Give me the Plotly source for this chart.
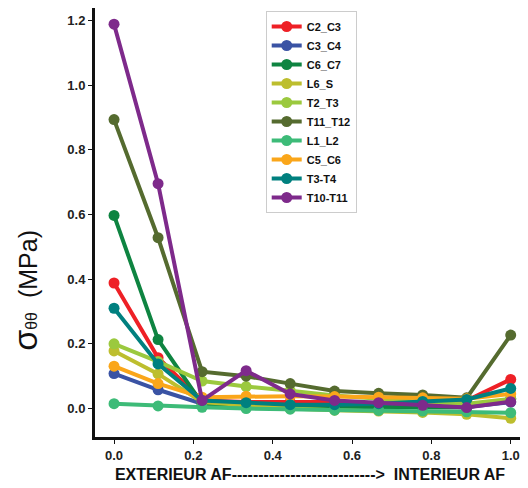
import plotly.graph_objects as go

x_vals = [0.0, 0.111, 0.222, 0.333, 0.444, 0.556, 0.667, 0.778, 0.889, 1.0]

series_names = ["C2_C3", "C3_C4", "C6_C7", "L6_S", "T2_T3", "T11_T12", "L1_L2", "C5_C6", "T3-T4", "T10-T11"]

C2_C3 = [0.388, 0.157, 0.025, 0.020, 0.020, 0.020, 0.015, 0.015, 0.025, 0.090]
C3_C4 = [0.108, 0.058, 0.015, 0.012, 0.010, 0.008, 0.005, 0.005, 0.005, 0.020]
C6_C7 = [0.597, 0.213, 0.015, 0.010, 0.008, 0.005, 0.003, 0.003, 0.003, 0.030]
L6_S = [0.178, 0.107, 0.020, 0.010, 0.000, -0.005, -0.008, -0.012, -0.018, -0.030]
T2_T3 = [0.200, 0.145, 0.085, 0.068, 0.055, 0.040, 0.030, 0.020, 0.015, 0.030]
T11_T12 = [0.893, 0.528, 0.114, 0.100, 0.077, 0.054, 0.047, 0.042, 0.033, 0.227]
L1_L2 = [0.015, 0.008, 0.004, 0.000, -0.002, -0.005, -0.006, -0.008, -0.010, -0.013]
C5_C6 = [0.131, 0.077, 0.035, 0.038, 0.038, 0.037, 0.035, 0.033, 0.030, 0.045]
T3_T4 = [0.310, 0.138, 0.025, 0.018, 0.012, 0.012, 0.015, 0.022, 0.028, 0.062]
T10_T11 = [1.188, 0.695, 0.025, 0.117, 0.045, 0.025, 0.018, 0.010, 0.003, 0.021]

series_values = [C2_C3, C3_C4, C6_C7, L6_S, T2_T3, T11_T12, L1_L2, C5_C6, T3_T4, T10_T11]
colors = ["#EE2026", "#3A53A4", "#0E8441", "#BDBE2E", "#9BC93E", "#556B2F",
          "#3DBB78", "#FAA61A", "#00807F", "#7E2A8B"]

x_ticks = [0.0, 0.2, 0.4, 0.6, 0.8, 1.0]
y_ticks = [0.0, 0.2, 0.4, 0.6, 0.8, 1.0, 1.2]

x_title = "EXTERIEUR AF" + "-" * 27 + ">  INTERIEUR AF"
y_title = ("<span style='font-size:34px'>σ</span>"
           "<span style='font-size:16px'>θθ</span>"
           "<span style='font-size:25px'>  (MPa)</span>")

fig = go.Figure()
for name, vals, col in zip(series_names, series_values, colors):
    fig.add_trace(go.Scatter(
        x=x_vals, y=vals, name=name, mode="lines+markers",
        line=dict(color=col, width=4),
        marker=dict(color=col, size=11),
    ))

font_family = "Liberation Sans, Arial, sans-serif"

fig.update_layout(
    width=520, height=480,
    margin=dict(l=87, r=3, t=0, b=51),
    plot_bgcolor="white", paper_bgcolor="white",
    font=dict(family=font_family, color="#222"),
    legend=dict(
        x=0.397, y=0.993, xanchor="left", yanchor="top",
        bgcolor="white", bordercolor="#cccccc", borderwidth=1,
        font=dict(family=font_family, size=11, color="#111", weight="bold"),
        tracegroupgap=0, itemwidth=30,
    ),
    xaxis=dict(
        range=[-0.048, 1.036], tickvals=x_ticks,
        ticktext=[f"{v:.1f}" for v in x_ticks],
        showgrid=False, zeroline=False,
        showline=True, linecolor="#111", linewidth=3,
        ticks="outside", ticklen=4, tickwidth=1, tickcolor="#111",
        tickfont=dict(size=13, weight="bold", color="#222"),
        title=dict(text=x_title,
                   font=dict(size=16, weight="bold", color="#111"), standoff=8),
    ),
    yaxis=dict(
        range=[-0.088, 1.238], tickvals=y_ticks,
        ticktext=[f"{v:.1f}" for v in y_ticks],
        showgrid=False, zeroline=False,
        showline=True, linecolor="#111", linewidth=3,
        ticks="outside", ticklen=4, tickwidth=1, tickcolor="#111",
        tickfont=dict(size=13, weight="bold", color="#222"),
    ),
    annotations=[dict(
        text=y_title, textangle=-90, showarrow=False,
        xref="paper", yref="paper", x=-0.163, y=0.343,
        xanchor="center", yanchor="middle",
        font=dict(family=font_family, size=25, color="#111"),
    )],
)

fig.write_html("out.html")
